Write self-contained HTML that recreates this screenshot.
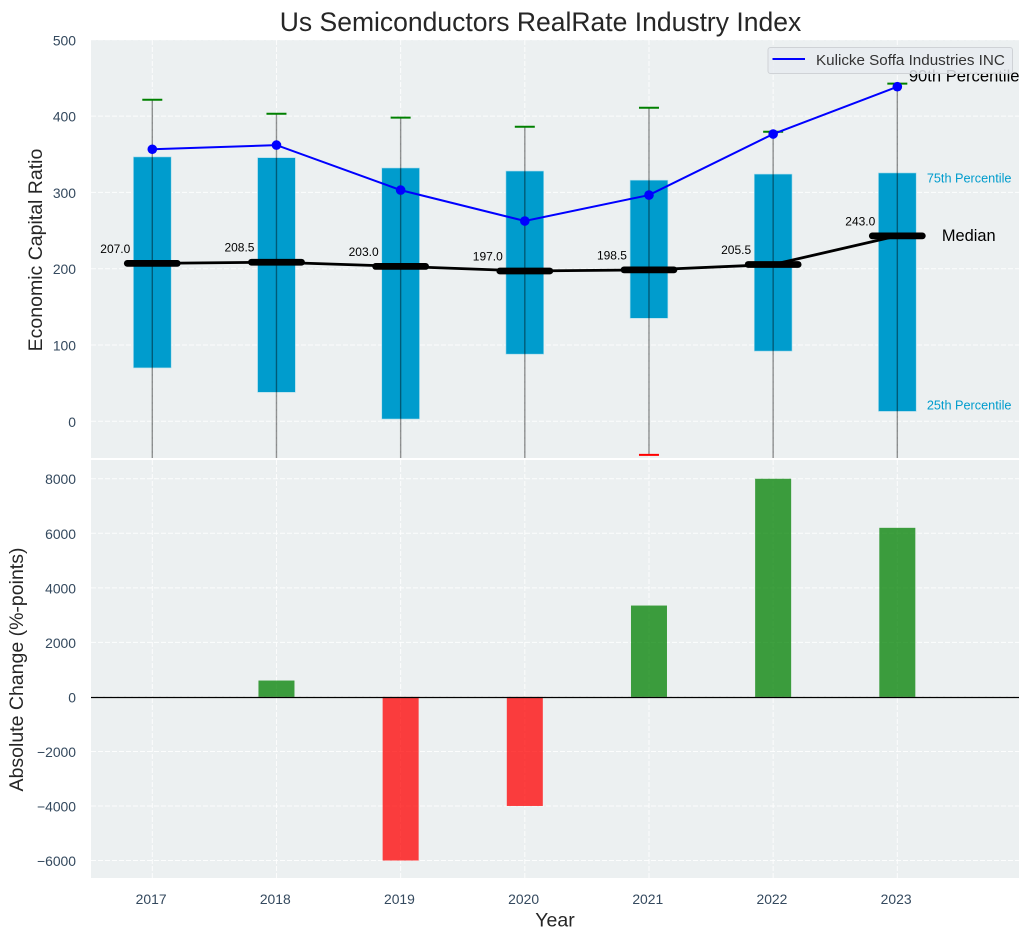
<!DOCTYPE html>
<html lang="en">
<head>
<meta charset="utf-8">
<title>Us Semiconductors RealRate Industry Index</title>
<style>
html,body{margin:0;padding:0;background:#fff;width:1030px;height:940px;overflow:hidden}
svg{display:block;font-family:"Liberation Sans",Arial,sans-serif}
</style>
</head>
<body>
<svg id="chart" xmlns="http://www.w3.org/2000/svg" width="1030" height="940" viewBox="0 0 1030 940">
  <defs>
    <clipPath id="clip-top"><rect x="91" y="40" width="928" height="418"/></clipPath>
    <clipPath id="clip-bottom"><rect x="91" y="460" width="928" height="418"/></clipPath>
  </defs>
  <text x="540.5" y="31" text-anchor="middle" font-size="26.5" fill="#262626">Us Semiconductors RealRate Industry Index</text>
  <rect x="91" y="40" width="928" height="418" fill="#ecf0f1"/>
  <rect x="91" y="460" width="928" height="418" fill="#ecf0f1"/>
  <g id="grid"></g>
  <g id="top-marks" clip-path="url(#clip-top)"></g>
  <g id="bottom-marks" clip-path="url(#clip-bottom)"></g>
  <g id="ticks"></g>
  <text transform="translate(42,250) rotate(-90)" text-anchor="middle" font-size="19.5" fill="#262626">Economic Capital Ratio</text>
  <text transform="translate(23,669.5) rotate(-90)" text-anchor="middle" font-size="19.5" fill="#262626">Absolute Change (%-points)</text>
  <text x="555" y="926.5" text-anchor="middle" font-size="19.5" fill="#262626">Year</text>
  <g>
    <rect x="768" y="47.5" width="244.5" height="26" rx="2.5" fill="#e8ebf0" fill-opacity="0.85" stroke="#cfd2d6" stroke-width="1"/>
    <line x1="772.5" x2="805" y1="59" y2="59" stroke="#0000ff" stroke-width="2"/>
    <text x="816" y="65" font-size="15.2" fill="#333">Kulicke Soffa Industries INC</text>
  </g>
</svg>
<script>
const years = [2017, 2018, 2019, 2020, 2021, 2022, 2023];
const p25 = [70, 38, 3, 88, 135, 92, 13];
const p75 = [346.5, 345.5, 332, 328, 316, 324, 325.5];
const whiskerHigh = [421.5, 403, 398, 386, 411, 379.5, 442.5];
const whiskerLow = [-60, -62, -70, -58, -44, -75, -80];
const medians = [207.0, 208.5, 203.0, 197.0, 198.5, 205.5, 243.0];
const companyValues = [356.5, 362, 303, 262.5, 296.5, 376.5, 438.5];
const absoluteChange = [0, 600, -6000, -4000, 3350, 8000, 6200];
const topTicks = [0, 100, 200, 300, 400, 500];
const bottomTicks = [-6000, -4000, -2000, 0, 2000, 4000, 6000, 8000];

const SVGNS = 'http://www.w3.org/2000/svg';
const xAt = yr => 152.3 + (yr - 2017) * 124.17;
const xSpan = w => w * 124.17;
const yTop = v => 421.3 - v * 0.763;
const yBottom = v => 696.9 - v * 0.02727;

function make(parent, tag, attrs, text) {
  const el = document.createElementNS(SVGNS, tag);
  for (const k in attrs) el.setAttribute(k, attrs[k]);
  if (text !== undefined) el.textContent = text;
  parent.appendChild(el);
  return el;
}

const grid = document.getElementById('grid');
const topG = document.getElementById('top-marks');
const botG = document.getElementById('bottom-marks');
const ticks = document.getElementById('ticks');
const gridStyle = {stroke: '#ffffff', 'stroke-width': 1, 'stroke-dasharray': '5 2', 'stroke-opacity': 0.85};

topTicks.forEach(t => {
  const g = make(grid, 'line', Object.assign({x1: 91, x2: 1019, y1: yTop(t), y2: yTop(t)}, gridStyle));
  
  
  const l = make(ticks, 'text', {x: 76, y: yTop(t) + 5.5, 'text-anchor': 'end', 'font-size': 13.9, fill: '#34495e'}, String(t));
  
  
});

bottomTicks.forEach(t => {
  const g = make(grid, 'line', Object.assign({x1: 91, x2: 1019, y1: yBottom(t), y2: yBottom(t)}, gridStyle));
  
  
  const l = make(ticks, 'text', {x: 76, y: yBottom(t) + 5.5, 'text-anchor': 'end', 'font-size': 13.9, fill: '#34495e'}, String(t).replace('-', '\u2212'));
  
  
});

years.forEach(yr => {
  const a = make(grid, 'line', Object.assign({x1: xAt(yr), x2: xAt(yr), y1: 40, y2: 458}, gridStyle));
  
  
  const b = make(grid, 'line', Object.assign({x1: xAt(yr), x2: xAt(yr), y1: 460, y2: 878}, gridStyle));
  
  
  const l = make(ticks, 'text', {x: xAt(yr) - 1.2, y: 904, 'text-anchor': 'middle', 'font-size': 13.9, fill: '#34495e'}, String(yr));
  
  
});

/* Interquartile boxes */
years.forEach((yr, i) => {
  const box = make(topG, 'rect', {
    x: xAt(yr) - xSpan(0.152), width: xSpan(0.304),
    y: yTop(p75[i]), height: yTop(p25[i]) - yTop(p75[i]),
    fill: '#009ccd', stroke: '#a8dcec', 'stroke-width': 0.6
  });
  
  
});

/* Whiskers and caps */
years.forEach((yr, i) => {
  const w = make(topG, 'line', {
    x1: xAt(yr), x2: xAt(yr), y1: yTop(whiskerHigh[i]), y2: yTop(whiskerLow[i]),
    stroke: '#000', 'stroke-opacity': 0.42, 'stroke-width': 1.4
  });
  
  
  const hi = make(topG, 'line', {
    x1: xAt(yr) - 10, x2: xAt(yr) + 10, y1: yTop(whiskerHigh[i]), y2: yTop(whiskerHigh[i]),
    stroke: '#008000', 'stroke-width': 2
  });
  
  
  const lo = make(topG, 'line', {
    x1: xAt(yr) - 10, x2: xAt(yr) + 10, y1: yTop(whiskerLow[i]), y2: yTop(whiskerLow[i]),
    stroke: '#ff0000', 'stroke-width': 2
  });
  
  
});

/* Median trend line */
const medianLine = make(topG, 'polyline', {
  points: years.map((yr, i) => xAt(yr) + ',' + yTop(medians[i])).join(' '),
  fill: 'none', stroke: '#000', 'stroke-width': 2.8
});



years.forEach((yr, i) => {
  const seg = make(topG, 'line', {
    x1: xAt(yr) - 25, x2: xAt(yr) + 25, y1: yTop(medians[i]), y2: yTop(medians[i]),
    stroke: '#000', 'stroke-width': 6.8, 'stroke-linecap': 'round'
  });
  
  
  const lab = make(topG, 'text', {
    x: xAt(yr) - 22, y: yTop(medians[i]) - 10.5, 'text-anchor': 'end', 'font-size': 12, fill: '#000'
  }, medians[i].toFixed(1));
  
  
});

/* Company series */
const companyLine = make(topG, 'polyline', {
  points: years.map((yr, i) => xAt(yr) + ',' + yTop(companyValues[i])).join(' '),
  fill: 'none', stroke: '#0000ff', 'stroke-width': 2
});



years.forEach((yr, i) => {
  const pt = make(topG, 'circle', {cx: xAt(yr), cy: yTop(companyValues[i]), r: 4.8, fill: '#0000ff'});
  
  
});

/* Annotations anchored on the last year */
const lastIdx = years.length - 1;
const lastX = xAt(years[lastIdx]);
const a90 = make(topG, 'text', {x: lastX + 11.5, y: yTop(whiskerHigh[lastIdx]) - 2.3, 'font-size': 16.6, fill: '#000'}, '90th Percentile');


const a75 = make(topG, 'text', {x: lastX + 29.5, y: yTop(p75[lastIdx]) + 9.5, 'font-size': 12.7, fill: '#009ccd'}, '75th Percentile');


const a25 = make(topG, 'text', {x: lastX + 29.5, y: yTop(p25[lastIdx]) - 2, 'font-size': 12.7, fill: '#009ccd'}, '25th Percentile');


const aMed = make(topG, 'text', {x: lastX + 44.5, y: yTop(medians[lastIdx]) + 5, 'font-size': 16.4, fill: '#000'}, 'Median');



/* Bottom panel bars */
years.forEach((yr, i) => {
  const v = absoluteChange[i];
  const bar = make(botG, 'rect', {
    x: xAt(yr) - xSpan(0.145), width: xSpan(0.29),
    y: Math.min(yBottom(v), yBottom(0)), height: Math.abs(yBottom(v) - yBottom(0)),
    fill: v >= 0 ? '#008000' : '#ff0000', 'fill-opacity': 0.75
  });
  
  
});

const zeroY = Math.round(yBottom(0)) + 0.5;
const zero = make(botG, 'line', {x1: 91, x2: 1019, y1: zeroY, y2: zeroY, stroke: '#000', 'stroke-width': 1.3});


</script>
</body>
</html>
